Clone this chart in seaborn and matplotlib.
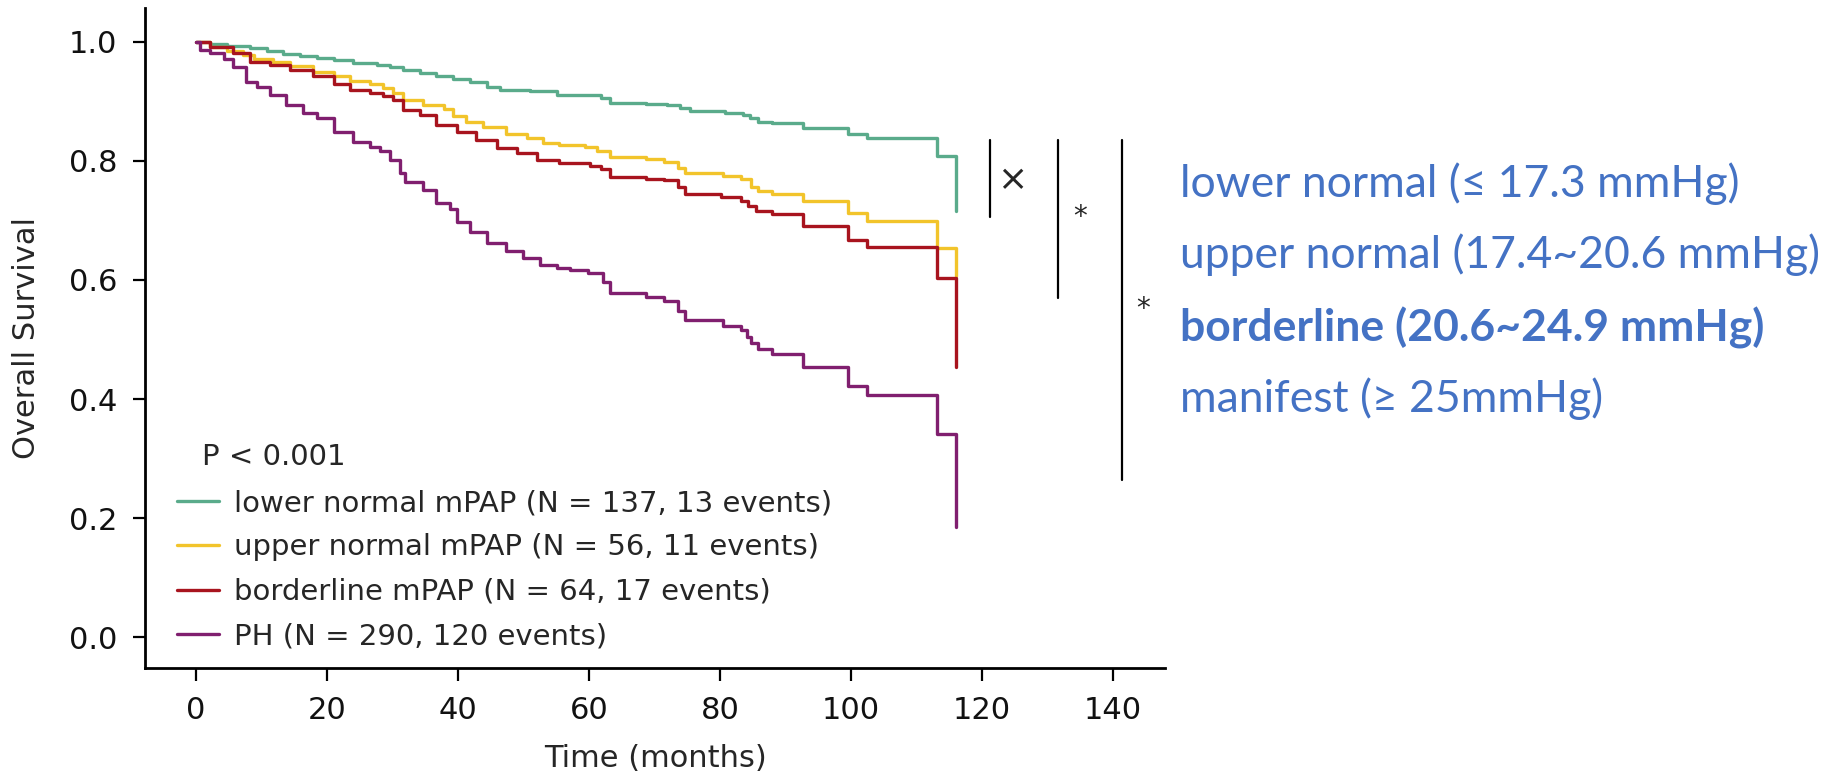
import pandas as pd
import seaborn as sns
import matplotlib.pyplot as plt

# Kaplan-Meier step curves (time in months, survival)
lower_t = [0, 2.1, 4.7, 8.2, 10.8, 13.3, 15.9, 18.4, 21.0, 24.0, 27.6, 29.6, 31.6, 34.2, 36.7, 39.3,
           41.8, 44.4, 46.4, 51.0, 55.1, 61.9, 63.2, 68.8, 71.9, 73.9, 75.4, 80.8, 83.6, 84.6, 85.9,
           87.9, 92.7, 99.6, 102.5, 113.1, 116.1]
lower_s = [1.0, .997, .993, .989, .984, .980, .977, .973, .969, .965, .962, .958, .953, .947, .942, .937,
           .932, .925, .920, .917, .911, .905, .898, .896, .894, .889, .884, .881, .877, .872, .866,
           .863, .856, .845, .838, .808, .716]

upper_t = [0, 2.1, 4.7, 7.2, 8.8, 11.8, 14.4, 17.9, 21.0, 23.5, 26.6, 28.6, 30.1, 31.6, 34.7, 37.8,
           39.3, 41.3, 43.9, 47.4, 50.5, 53.0, 55.5, 59.4, 61.2, 63.2, 68.8, 71.4, 73.6, 74.7, 80.5,
           83.3, 84.8, 85.9, 87.9, 92.7, 99.6, 102.5, 113.1, 116.1]
upper_s = [1.0, .992, .985, .978, .971, .967, .960, .950, .942, .935, .929, .922, .914, .903, .894, .887,
           .876, .866, .857, .845, .838, .830, .826, .823, .817, .806, .803, .799, .788, .779, .775,
           .770, .757, .750, .745, .733, .712, .699, .653, .607]

border_t = [0, 2.1, 5.7, 8.2, 11.3, 14.4, 17.9, 21.0, 23.5, 26.6, 28.6, 30.1, 31.6, 34.2, 36.7, 39.8,
            42.8, 45.9, 49.0, 52.0, 55.5, 60.2, 61.9, 63.2, 68.8, 71.4, 73.6, 74.7, 80.2, 83.3, 84.3,
            85.6, 87.9, 92.7, 99.6, 102.5, 113.1, 116.1]
border_s = [1.0, .991, .981, .967, .962, .953, .942, .929, .920, .914, .909, .903, .886, .877, .861, .849,
            .835, .821, .813, .802, .797, .792, .786, .773, .770, .768, .756, .745, .740, .733, .725,
            .716, .711, .691, .668, .655, .603, .453]

ph_t = [0, 0.6, 2.1, 4.2, 5.7, 7.7, 9.3, 11.3, 13.8, 16.4, 18.4, 21.0, 24.0, 26.6, 28.1, 29.6, 31.1,
        31.9, 34.7, 36.7, 38.8, 39.8, 41.8, 44.4, 47.4, 50.0, 52.5, 55.1, 57.1, 59.9, 62.2, 63.2, 68.8,
        71.4, 73.6, 74.7, 80.5, 83.3, 84.1, 84.8, 85.9, 87.9, 92.7, 99.6, 102.5, 113.1, 116.1]
ph_s = [1.0, .987, .981, .971, .958, .933, .924, .911, .894, .880, .872, .849, .832, .823, .816, .802, .779,
        .764, .752, .729, .720, .698, .681, .662, .648, .637, .625, .620, .616, .611, .597, .578, .571,
        .565, .548, .533, .523, .516, .505, .494, .484, .475, .454, .422, .406, .341, .185]

group_labels = ['lower normal mPAP (N = 137, 13 events)',
                'upper normal mPAP (N = 56, 11 events)',
                'borderline mPAP (N = 64, 17 events)',
                'PH (N = 290, 120 events)']
group_colors = ['#5aab8b', '#f2c42b', '#a8141e', '#801f6f']

range_labels = ['lower normal (\u2264 17.3 mmHg)',
                'upper normal (17.4~20.6 mmHg)',
                'borderline (20.6~24.9 mmHg)',
                'manifest (\u2265 25mmHg)']

frames = []
for lab, t, s in zip(group_labels, [lower_t, upper_t, border_t, ph_t],
                     [lower_s, upper_s, border_s, ph_s]):
    frames.append(pd.DataFrame({'time': t, 'surv': s, 'group': lab}))
km = pd.concat(frames, ignore_index=True)

sns.set_style('ticks')
plt.rcParams['font.family'] = ['DejaVu Sans']

fig = plt.figure(figsize=(18.37, 7.77), dpi=100)
ax = fig.add_axes([145 / 1837, 1 - 668 / 777, 1020 / 1837, 660 / 777])

sns.lineplot(data=km, x='time', y='surv', hue='group', hue_order=group_labels,
             palette=group_colors, estimator=None, drawstyle='steps-post',
             linewidth=2.4, ax=ax)

ax.set_xlim(-7.8, 148)
ax.set_ylim(-0.052, 1.057)
ax.set_xticks(range(0, 141, 20))
ax.set_yticks([0, 0.2, 0.4, 0.6, 0.8, 1.0])
ax.set_yticklabels(['0.0', '0.2', '0.4', '0.6', '0.8', '1.0'])
ax.tick_params(labelsize=22, length=9, width=1.6, pad=11, color='black', labelcolor='#111111')
sns.despine(ax=ax)
for sp in ['left', 'bottom']:
    ax.spines[sp].set_linewidth(2.0)
    ax.spines[sp].set_color('black')
ax.set_xlabel('Time (months)', fontsize=22, labelpad=14)
ax.set_ylabel('Overall Survival', fontsize=22, labelpad=20)

sns.move_legend(ax, 'upper left', bbox_to_anchor=(0.031, 0.271), title=None, frameon=False,
                fontsize=21, handlelength=1.47, handletextpad=0.5, labelspacing=0.56,
                borderpad=0, borderaxespad=0)
ax.text(0.056, 0.32, 'P < 0.001', transform=ax.transAxes, fontsize=21, va='center', ha='left')

# significance brackets
for xb, y_top, y_bot in [(121.2, 0.835, 0.706), (131.6, 0.835, 0.570), (141.4, 0.835, 0.264)]:
    ax.plot([xb, xb], [y_top, y_bot], color='black', lw=1.6, clip_on=False)
ax.text(124.7, 0.768, '\u00d7', fontsize=26, ha='center', va='center')
ax.text(135.0, 0.706, '*', fontsize=20, ha='center', va='center')
ax.text(144.7, 0.551, '*', fontsize=20, ha='center', va='center')

# mPAP range key on the right
for i, (lab, yb) in enumerate(zip(range_labels, [0.7468, 0.6547, 0.5602, 0.4701])):
    fig.text(1180 / 1837, yb, lab, fontsize=32, color='#4472c4', va='baseline', ha='left',
             family=['Lato', 'DejaVu Sans'], fontweight='bold' if i == 2 else 'normal')

fig.savefig('out.png', dpi=100)
